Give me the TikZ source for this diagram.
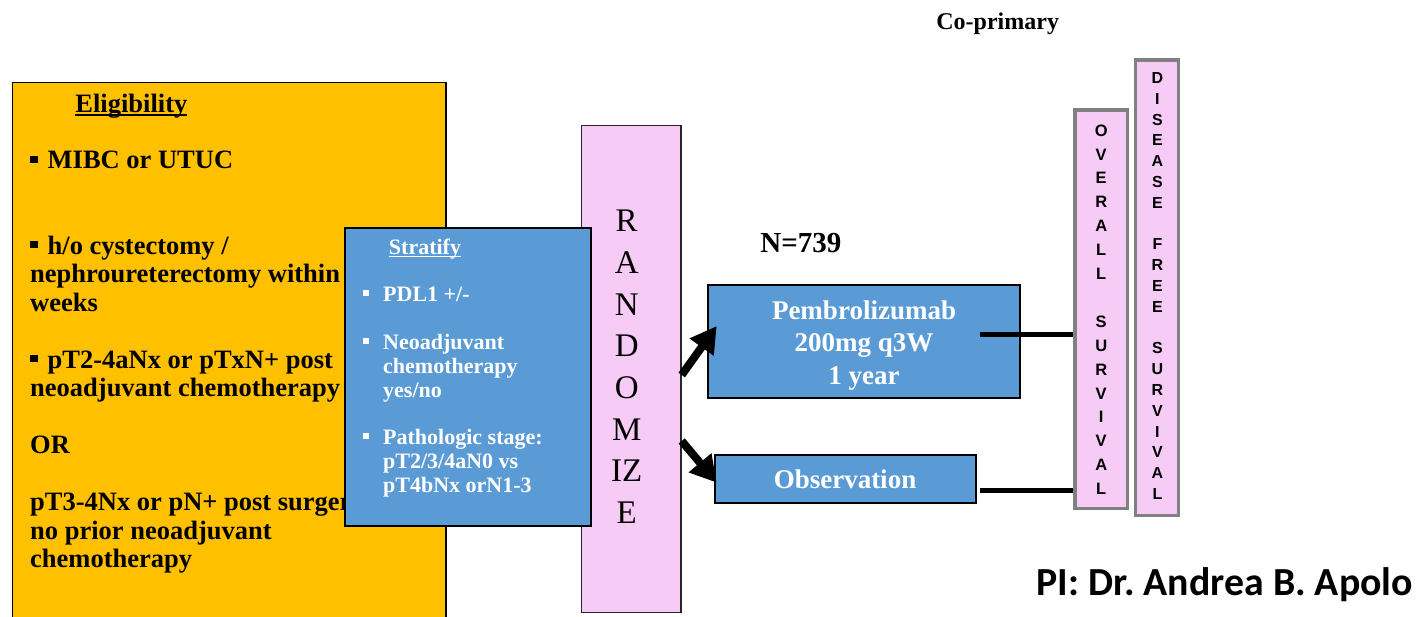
\documentclass[tikz,border=0pt]{standalone}
\usepackage{fontspec}
\setmainfont{Liberation Serif}
\newfontfamily\arialfont{Liberation Sans}
\newfontfamily\calibrifont{Carlito}
\usepackage{tikz}
\usetikzlibrary{arrows.meta}
\definecolor{eligcolor}{RGB}{255,192,0}
\definecolor{armcolor}{RGB}{91,155,213}
\definecolor{randcolor}{RGB}{246,204,246}
\definecolor{edgegray}{RGB}{128,128,128}
\newcommand{\sqbul}{\rule[0.21em]{0.28em}{0.28em}\hspace{0.38em}}
\newcommand{\smbul}{\makebox[20pt][l]{\rule[0.26em]{0.26em}{0.26em}}}
\newcommand{\ulword}[1]{\setbox0\hbox{#1}\rlap{\rule[-0.13em]{\wd0}{0.06em}}\box0}

\begin{document}
\begin{tikzpicture}[x=1pt, y=-1pt,
    panel/.style={draw=black, line width=1.5pt, inner sep=0pt},
    armbox/.style={draw=black, line width=2pt, fill=armcolor, inner sep=0pt},
    endpoint/.style={draw=edgegray, line width=3.5pt, fill=randcolor, inner sep=0pt},
    bodytext/.style={inner sep=0pt, align=left, font=\bfseries\fontsize{26.5}{28.5}\selectfont},
    strattext/.style={inner sep=0pt, align=left, text=white, font=\bfseries\fontsize{22}{23.8}\selectfont},
    armtext/.style={inner sep=0pt, align=center, text=white, font=\bfseries\fontsize{27}{32.5}\selectfont},
    lettertext/.style={inner sep=0pt, align=center, font=\arialfont\bfseries\fontsize{16.5}{23.9}\selectfont},
    arrowline/.style={line width=8pt, -{Triangle[length=26pt, width=28pt]}},
    joinline/.style={line width=5.5pt}
]
    \useasboundingbox (0,0) rectangle (1425,617);
    \clip (0,0) rectangle (1425,617);

    % Eligibility
    \node[panel, fill=eligcolor, minimum width=433.3pt, minimum height=577pt] (elig) at (229.3,371) {};
    \node[bodytext, anchor=base] (eligtitle) at (131.4,112.5) {\ulword{Eligibility}};
    \node[bodytext, anchor=north west] (eliglist) at (30,148.4) {\strut\sqbul MIBC or UTUC\\[57pt]
        \sqbul h/o cystectomy /\\ nephroureterectomy within\\ weeks\\[28.5pt]
        \sqbul pT2-4aNx or pTxN+ post\\ neoadjuvant chemotherapy\\[28.5pt]
        OR\\[28.5pt]
        pT3-4Nx or pN+ post surgery\\ no prior neoadjuvant\\ chemotherapy};

    % Randomize
    \node[panel, draw=black!85, fill=randcolor, minimum width=99.5pt, minimum height=486.7pt] (rand) at (631.2,369.1) {};
    \node[inner sep=0pt, align=center, font=\fontsize{33}{41.66}\selectfont, anchor=north] (randtext) at (626.7,202.5) {\strut R\\A\\N\\D\\O\\M\\IZ\\E};

    % Stratify
    \node[armbox, minimum width=246pt, minimum height=297pt] (strat) at (468.2,377) {};
    \node[strattext, anchor=base] (strattitle) at (425,254.5) {\ulword{Stratify}};
    \node[strattext, anchor=north west] (stratlist) at (363,285) {\strut\smbul PDL1 +/-\\[23.8pt]
        \smbul Neoadjuvant\\ \hspace*{20pt}chemotherapy\\ \hspace*{20pt}yes/no\\[23.8pt]
        \smbul Pathologic stage:\\ \hspace*{20pt}pT2/3/4aN0 vs\\ \hspace*{20pt}pT4bNx orN1-3};

    % Arms
    \node[bodytext, font=\bfseries\fontsize{29}{32}\selectfont, anchor=base] (ntotal) at (800.8,252.7) {N=739};
    \node[armbox, minimum width=312.3pt, minimum height=113pt] (pembro) at (863.8,341.5) {};
    \node[armtext, anchor=north] (pembrotext) at (864,296.3) {\strut Pembrolizumab\\200mg q3W\\1 year};
    \node[armbox, minimum width=261pt, minimum height=47.7pt] (obs) at (845.5,479.2) {};
    \node[armtext, anchor=base] (obstext) at (845,489) {Observation};

    \coordinate (upfrom) at (681.7,375);
    \coordinate (upto) at (716.7,326);
    \coordinate (downfrom) at (681.7,441);
    \coordinate (downto) at (716.7,482.7);
    \draw[arrowline] (upfrom) -- (upto);
    \draw[arrowline] (downfrom) -- (downto);

    % Endpoints
    \node[endpoint, minimum width=52.3pt, minimum height=398.5pt] (os) at (1101.2,309.1) {};
    \node[lettertext, anchor=north] (ostext) at (1101.2,119.2) {\strut O\\V\\E\\R\\A\\L\\L\\\mbox{}\\S\\U\\R\\V\\I\\V\\A\\L};
    \node[endpoint, minimum width=42.6pt, minimum height=455.6pt] (dfs) at (1157,287.8) {};
    \node[lettertext, font=\arialfont\bfseries\fontsize{16}{20.8}\selectfont, anchor=north] (dfstext) at (1157.4,68.8) {\strut D\\I\\S\\E\\A\\S\\E\\\mbox{}\\F\\R\\E\\E\\\mbox{}\\S\\U\\R\\V\\I\\V\\A\\L};

    \coordinate (pembroout) at (980,334.5);
    \coordinate (obsout) at (980,490.5);
    \draw[joinline] (pembroout) -- (pembroout -| os.west);
    \draw[joinline] (obsout) -- (obsout -| os.west);

    \node[inner sep=0pt, font=\bfseries\fontsize{24}{28}\selectfont, anchor=base] (coprimary) at (997.7,29.3) {Co-primary};
    \node[inner sep=0pt, font=\calibrifont\bfseries\fontsize{39.8}{44}\selectfont, anchor=base west] (pi) at (1036.5,595.5) {PI: Dr.\ Andrea B. Apolo};
\end{tikzpicture}
\end{document}
